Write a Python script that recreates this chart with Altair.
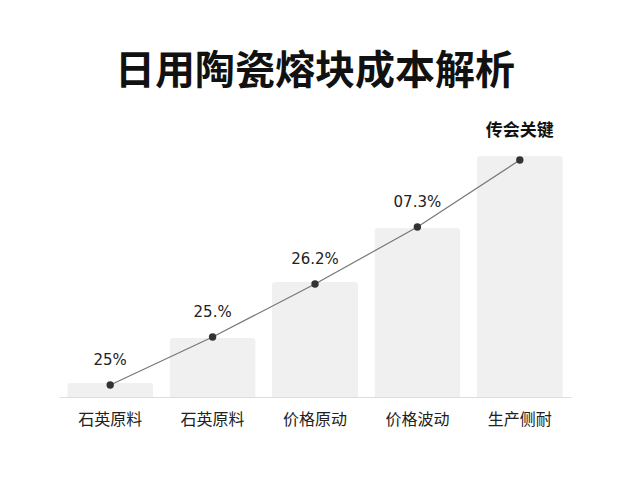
import altair as alt
import pandas as pd

categories = ["石英原料", "石英原料", "价格原动", "价格波动", "生产侧耐"]
bar_values = [14, 59, 115, 169, 241]
line_values = [12, 60, 113, 170, 237]
point_labels = ["25%", "25.%", "26.2%", "07.3%", "传会关键"]
label_bold = [False, False, False, False, True]

df = pd.DataFrame({
    "idx": list(range(len(categories))),
    "cat": categories,
    "bar": bar_values,
    "line": line_values,
    "label": point_labels,
    "bold": label_bold,
})

label_expr = "[" + ",".join(f"'{c}'" for c in categories) + "][datum.value]"

x = alt.X("idx:O", title=None,
          scale=alt.Scale(paddingInner=0.16, paddingOuter=0.08),
          axis=alt.Axis(labelAngle=0, labelExpr=label_expr, ticks=False,
                        domainColor="#dddddd", domainWidth=1,
                        labelFont="Noto Sans CJK SC", labelFontSize=16,
                        labelColor="#222222", labelPadding=14))
yscale = alt.Scale(domain=[0, 260])

base = alt.Chart(df)

bars = base.mark_bar(color="#f0f0f0", cornerRadiusTopLeft=3, cornerRadiusTopRight=3).encode(
    x=x, y=alt.Y("bar:Q", scale=yscale, axis=None))

line = base.mark_line(color="#777777", strokeWidth=1.2).encode(
    x=x, y=alt.Y("line:Q", scale=yscale))

pts = base.mark_circle(color="#333333", opacity=1, size=55).encode(
    x=x, y=alt.Y("line:Q", scale=yscale))

lbl = base.transform_filter("!datum.bold").mark_text(
    dy=-25, font="DejaVu Sans", fontSize=15, color="#222222").encode(
    x=x, y=alt.Y("line:Q", scale=yscale), text="label:N")

lbl_b = base.transform_filter("datum.bold").mark_text(
    dy=-29, font="Noto Sans CJK SC", fontSize=17, fontWeight="bold", color="#111111").encode(
    x=x, y=alt.Y("line:Q", scale=yscale), text="label:N")

chart = alt.layer(bars, line, pts, lbl, lbl_b).properties(
    width=512, height=260,
    background="white",
    padding={"left": 51, "top": 129, "right": 10, "bottom": 60},
    autosize=alt.AutoSizeParams(type="none"),
    title=alt.TitleParams("日用陶瓷熔块成本解析", font="Noto Sans CJK SC", fontSize=40,
                          fontWeight="bold", color="#111111", anchor="middle", offset=30),
).configure_view(strokeWidth=0, stroke=None)

chart.save("out.html", embed_options={"renderer": "svg", "actions": False})
